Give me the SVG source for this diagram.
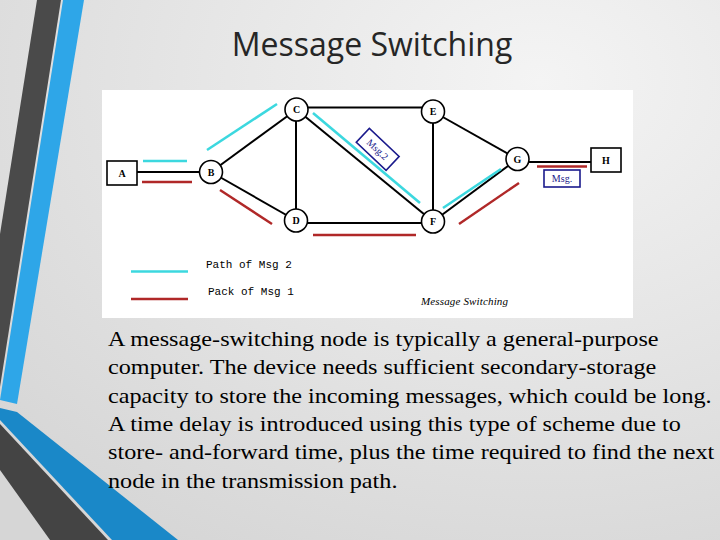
<svg xmlns="http://www.w3.org/2000/svg" width="720" height="540" viewBox="0 0 720 540">
<defs>
<radialGradient id="bg" cx="0.75" cy="0.15" r="1">
<stop offset="0" stop-color="#f4f4f4"/>
<stop offset="1" stop-color="#d6d6d6"/>
</radialGradient>
</defs>
<style>
.nd{fill:#fff;stroke:#000;stroke-width:1.6}
.lb{font-family:"Liberation Serif",serif;font-weight:bold;font-size:10px;fill:#000;text-anchor:middle}
.ed{stroke:#000;stroke-width:2;fill:none}
.cy{stroke:#3cd8df;stroke-width:2.6;fill:none}
.rd{stroke:#b02828;stroke-width:2.4;fill:none}
.mono{font-family:"Liberation Mono",monospace;font-size:11px;fill:#000}
.msg{font-family:"Liberation Serif",serif;font-size:10px;fill:#1a1a8c;text-anchor:middle}
</style>
<rect width="720" height="540" fill="url(#bg)"/>
<g id="decoration">
<polygon points="37,0 61,0 0,387 0,234" fill="#4a4a4a"/>
<polygon points="63,0 84,0 17,404 0,400" fill="#2ea6e8"/>
<polygon points="0,408 17,412 178,540 112,540 0,420" fill="#1a88c8"/>
<polygon points="0,424 108,540 50,540 0,470" fill="#444"/>
</g>
<text x="372" y="56" font-family="Open Sans, sans-serif" font-size="32" fill="#262626" text-anchor="middle">Message Switching</text>
<rect x="102" y="90" width="531" height="228" fill="#fff"/>
<g id="connectors">
<line class="ed" x1="137" y1="172" x2="199" y2="172"/>
<line class="ed" x1="211" y1="172" x2="296.5" y2="109.5"/>
<line class="ed" x1="211" y1="172" x2="296" y2="220.5"/>
<line class="ed" x1="296" y1="110" x2="296" y2="220"/>
<line class="ed" x1="300" y1="107.5" x2="430" y2="107.5"/>
<line class="ed" x1="300" y1="223" x2="430" y2="223"/>
<line class="ed" x1="296.5" y1="109.5" x2="433" y2="221.5"/>
<line class="ed" x1="433" y1="111.5" x2="433" y2="221.5"/>
<line class="ed" x1="433" y1="111.5" x2="517.5" y2="159"/>
<line class="ed" x1="433" y1="221.5" x2="517.5" y2="159"/>
<line class="ed" x1="520" y1="162" x2="591" y2="162"/>
<line class="cy" x1="143" y1="161" x2="187" y2="161"/>
<line class="rd" x1="142" y1="182" x2="192" y2="182"/>
<line class="cy" x1="207" y1="150" x2="277" y2="104"/>
<line class="rd" x1="220" y1="190" x2="272" y2="224"/>
<line class="rd" x1="313" y1="235" x2="416" y2="235"/>
<line class="cy" x1="313" y1="113" x2="420" y2="203"/>
<line class="cy" x1="443" y1="208" x2="501" y2="169"/>
<line class="rd" x1="459" y1="224" x2="519" y2="183"/>
<line class="rd" x1="537" y1="166.5" x2="587" y2="166.5" stroke-width="1.6"/>
</g>
<g id="node-A"><rect class="nd" x="107" y="161" width="30" height="24"/><text class="lb" x="122" y="176.5">A</text></g>
<g id="node-B"><circle class="nd" cx="211" cy="172" r="11.5"/><text class="lb" x="211" y="175.5">B</text></g>
<g id="node-C"><circle class="nd" cx="296.5" cy="109.5" r="11.5"/><text class="lb" x="296.5" y="113">C</text></g>
<g id="node-D"><circle class="nd" cx="296" cy="220.5" r="11.5"/><text class="lb" x="296" y="224">D</text></g>
<g id="node-E"><circle class="nd" cx="433" cy="111.5" r="11.5"/><text class="lb" x="433" y="115">E</text></g>
<g id="node-F"><circle class="nd" cx="433" cy="221.5" r="11.5"/><text class="lb" x="433" y="225">F</text></g>
<g id="node-G"><circle class="nd" cx="517.5" cy="159" r="11.5"/><text class="lb" x="517.5" y="162.5">G</text></g>
<g id="node-H"><rect class="nd" x="591" y="148" width="30" height="24"/><text class="lb" x="606" y="163.5">H</text></g>
<g id="msg2" transform="translate(377.7 149.4) rotate(43.4)">
<rect x="-20.5" y="-9.5" width="41" height="19" fill="#fff" stroke="#1a1a8c" stroke-width="1.6"/>
<text class="msg" x="0" y="3.5">Msg.2</text>
</g>
<g id="msg1"><rect x="544" y="170" width="36" height="17" fill="#fff" stroke="#1a1a8c" stroke-width="1.6"/><text class="msg" x="562" y="182">Msg.</text></g>
<g id="legend">
<line class="cy" x1="131" y1="271.5" x2="188" y2="271.5"/>
<line class="rd" x1="131" y1="299" x2="188" y2="299"/>
<text class="mono" x="206" y="268">Path of Msg 2</text>
<text class="mono" x="208" y="295">Pack of Msg 1</text>
<text x="421" y="305" font-family="Liberation Serif, serif" font-style="italic" font-size="11" textLength="87" fill="#000">Message Switching</text>
</g>
<g id="body" font-family="Liberation Serif, serif" font-size="21.5" fill="#000" transform="translate(108 0) scale(1.125 1)">
<text x="0" y="346">A message-switching node is typically a general-purpose</text>
<text x="0" y="374.3">computer. The device needs sufficient secondary-storage</text>
<text x="0" y="402.7">capacity to store the incoming messages, which could be long.</text>
<text x="0" y="431">A time delay is introduced using this type of scheme due to</text>
<text x="0" y="459.3">store- and-forward time, plus the time required to find the next</text>
<text x="0" y="487.7">node in the transmission path.</text>
</g>
</svg>
